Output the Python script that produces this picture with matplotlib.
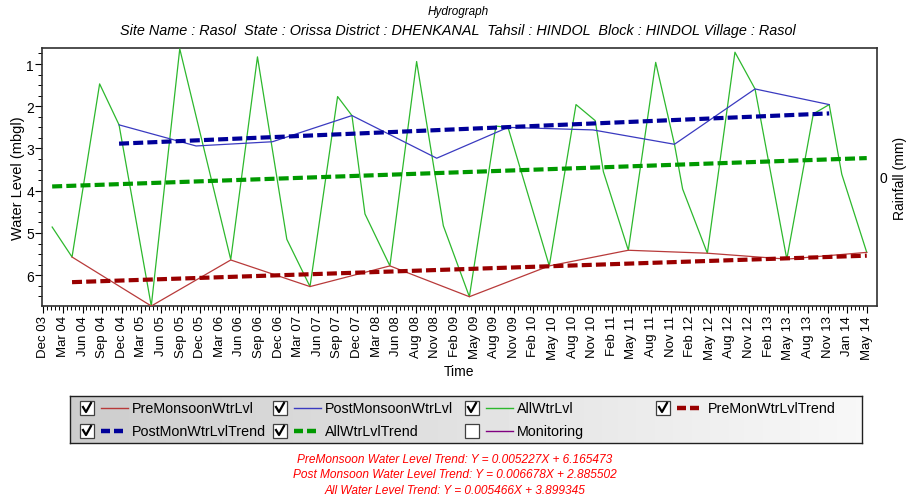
import numpy as np
import pandas as pd
import matplotlib
matplotlib.use('Agg')
import matplotlib.pyplot as plt
from matplotlib.ticker import FixedLocator, MultipleLocator

plt.rcParams['font.family'] = ['Liberation Sans', 'DejaVu Sans']

# water level readings (m below ground level)
allDates = ['2004-02-01', '2004-05-01', '2004-09-06', '2004-12-04', '2005-04-30',
            '2005-09-09', '2006-04-30', '2006-09-01', '2007-01-14', '2007-04-29',
            '2007-09-04', '2007-11-09', '2008-01-08', '2008-05-01', '2008-09-02',
            '2009-01-03', '2009-05-01', '2009-09-01', '2009-10-26', '2010-05-03',
            '2010-09-04', '2010-12-01', '2011-01-08', '2011-05-01', '2011-09-05',
            '2011-11-30', '2012-01-07', '2012-04-29', '2012-09-04', '2012-12-05',
            '2013-04-29', '2013-08-29', '2013-11-11', '2014-01-08', '2014-05-01']
allLevels = [4.86, 5.57, 1.47, 2.44, 6.73,
             0.64, 5.63, 0.83, 5.15, 6.27,
             1.77, 2.22, 4.55, 5.78, 0.94,
             4.83, 6.51, 2.47, 2.50, 5.78,
             1.96, 2.34, 3.55, 5.41, 0.96,
             2.90, 3.96, 5.48, 0.72, 1.59,
             5.62, 2.18, 1.96, 3.61, 5.46]

preDates = ['2004-05-01', '2005-04-30', '2006-04-30', '2007-04-29', '2008-05-01', '2009-05-01',
            '2010-05-03', '2011-05-01', '2012-04-29', '2013-04-29', '2014-05-01']
preLevels = [5.57, 6.73, 5.64, 6.27, 5.78, 6.51, 5.78, 5.41, 5.48, 5.62, 5.46]

postDates = ['2004-12-04', '2005-11-23', '2006-11-09', '2007-11-09', '2008-12-03',
             '2009-10-26', '2010-11-21', '2011-11-30', '2012-12-05', '2013-11-11']
postLevels = [2.44, 2.94, 2.84, 2.22, 3.23, 2.50, 2.56, 2.90, 1.59, 1.96]

# trend equations printed under the chart (slope, intercept)
preTrend = (0.005227, 6.165473)
postTrend = (0.006678, 2.885502)
allTrend = (0.005466, 3.899345)

tickLabels = ['Dec 03', 'Mar 04', 'Jun 04', 'Sep 04', 'Dec 04', 'Mar 05', 'Jun 05', 'Sep 05',
              'Dec 05', 'Mar 06', 'Jun 06', 'Sep 06', 'Dec 06', 'Mar 07', 'Jun 07', 'Sep 07',
              'Dec 07', 'Mar 08', 'Jun 08', 'Aug 08', 'Nov 08', 'Feb 09', 'May 09', 'Aug 09',
              'Nov 09', 'Feb 10', 'May 10', 'Aug 10', 'Nov 10', 'Feb 11', 'May 11', 'Aug 11',
              'Nov 11', 'Feb 12', 'May 12', 'Aug 12', 'Nov 12', 'Feb 13', 'May 13', 'Aug 13',
              'Nov 13', 'Jan 14', 'May 14']


def toMonths(dates):
    d = pd.to_datetime(pd.Series(dates))
    return ((d.dt.year - 2003) * 12 + (d.dt.month - 12) + (d.dt.day - 1) / 30.0).to_numpy()


def trendLine(dates, coef):
    m = toMonths(dates)
    x = np.array([m[0], m[-1]])
    return x, coef[1] - coef[0] * (x - m[0])


W, H = 910, 502
fig = plt.figure(figsize=(W / 100, H / 100), dpi=100)

L, R, T, B = 41.7, 877, 49, 307
ax = fig.add_axes([L / W, 1 - B / H, (R - L) / W, (B - T) / H])

allX = toMonths(allDates)
preX = toMonths(preDates)
postX = toMonths(postDates)

ax.plot(allX, allLevels, color='#2DB82D', lw=0.9, zorder=3)
ax.plot(preX, preLevels, color='#B83A3A', lw=0.9, zorder=3)
ax.plot(postX, postLevels, color='#3A3AC0', lw=0.9, zorder=3)

dash = dict(lw=3.0, dashes=(2.4, 1.0), dash_capstyle='butt', zorder=4)
ax.plot(*trendLine(preDates, preTrend), color='#990000', **dash)
ax.plot(*trendLine(postDates, postTrend), color='#000099', **dash)
ax.plot(*trendLine(allDates, allTrend), color='#009900', **dash)

ax.set_xlim(0.42, 126.55)
ax.set_ylim(6.73, 0.62)

tickPos = np.linspace(0.66, 125.0, len(tickLabels))
ax.xaxis.set_major_locator(FixedLocator(tickPos))
ax.set_xticklabels(tickLabels, rotation=90, fontsize=9.5)
minor = (tickPos[:-1, None] + np.diff(tickPos)[:, None] * np.arange(1, 5) / 5).ravel()
ax.xaxis.set_minor_locator(FixedLocator(minor))
ax.yaxis.set_major_locator(FixedLocator([1, 2, 3, 4, 5, 6]))
ax.yaxis.set_minor_locator(MultipleLocator(0.25))
ax.tick_params(axis='both', which='major', length=5, width=0.8, pad=1.5, labelsize=9.5)
ax.tick_params(axis='y', which='major', pad=0.5, labelsize=10)
ax.tick_params(axis='both', which='minor', length=3, width=0.7)
ax.set_xlabel('Time', fontsize=10, labelpad=4)
ax.set_ylabel('Water Level (mbgl)', fontsize=10.5, labelpad=1)
for s in ax.spines.values():
    s.set_color('#303030')
    s.set_linewidth(1.2)

ax2 = ax.twinx()
ax2.set_ylim(-1, 1)
ax2.set_yticks([0])
ax2.tick_params(axis='y', length=0, pad=2, labelsize=10)
ax2.set_ylabel('Rainfall (mm)', fontsize=10, labelpad=4)
for s in ax2.spines.values():
    s.set_visible(False)

fig.text(0.5035, 1 - 12 / H, 'Hydrograph', ha='center', va='center', style='italic', fontsize=8.5)
fig.text(0.5035, 1 - 31 / H,
         'Site Name : Rasol  State : Orissa District : DHENKANAL  Tahsil : HINDOL  Block : HINDOL Village : Rasol',
         ha='center', va='center', style='italic', fontsize=10.4)

# legend panel drawn in pixel coordinates
lx0, lx1, ly0, ly1 = 70, 862, 397, 444
lg = fig.add_axes([lx0 / W, 1 - ly1 / H, (lx1 - lx0) / W, (ly1 - ly0) / H])
lg.set_xlim(lx0, lx1)
lg.set_ylim(ly1, ly0)
grad = np.linspace(0.80, 0.97, 256)[None, :]
lg.imshow(grad, cmap='gray', vmin=0, vmax=1, aspect='auto', extent=(lx0, lx1, ly1, ly0))
lg.set_xticks([])
lg.set_yticks([])
for s in lg.spines.values():
    s.set_color('#202020')
    s.set_linewidth(1.0)

entries = [
    (80, 409, True, 'solid', '#B83A3A', 'PreMonsoonWtrLvl'),
    (273, 409, True, 'solid', '#3A3AC0', 'PostMonsoonWtrLvl'),
    (465, 409, True, 'solid', '#2DB82D', 'AllWtrLvl'),
    (656, 409, True, 'dash', '#990000', 'PreMonWtrLvlTrend'),
    (80, 432, True, 'dash', '#000099', 'PostMonWtrLvlTrend'),
    (273, 432, True, 'dash', '#009900', 'AllWtrLvlTrend'),
    (465, 432, False, 'solid', '#800080', 'Monitoring'),
]
for cx, cy, checked, style, color, label in entries:
    lg.add_patch(plt.Rectangle((cx, cy - 7), 14, 14, facecolor='white',
                               edgecolor='#404040', lw=0.9, zorder=3))
    if checked:
        lg.plot([cx + 3, cx + 6, cx + 11], [cy - 1, cy + 4, cy - 5], color='black', lw=1.6, zorder=4)
    if style == 'solid':
        lg.plot([cx + 21, cx + 48], [cy, cy], color=color, lw=1.0)
    else:
        lg.plot([cx + 21, cx + 30], [cy, cy], color=color, lw=3.2, solid_capstyle='butt')
        lg.plot([cx + 34, cx + 43], [cy, cy], color=color, lw=3.2, solid_capstyle='butt')
    lg.text(cx + 52, cy, label, ha='left', va='center', fontsize=10.3)

eqs = ['PreMonsoon Water Level Trend: Y = %.6fX + %.6f' % preTrend,
       'Post Monsoon Water Level Trend: Y = %.6fX + %.6f' % postTrend,
       'All Water Level Trend: Y = %.6fX + %.6f' % allTrend]
for i, t in enumerate(eqs):
    fig.text(0.5, 1 - (460 + 15.5 * i) / H, t, ha='center', va='center',
             style='italic', fontsize=8.6, color='#FF0000')

fig.savefig('out.png', dpi=100)
